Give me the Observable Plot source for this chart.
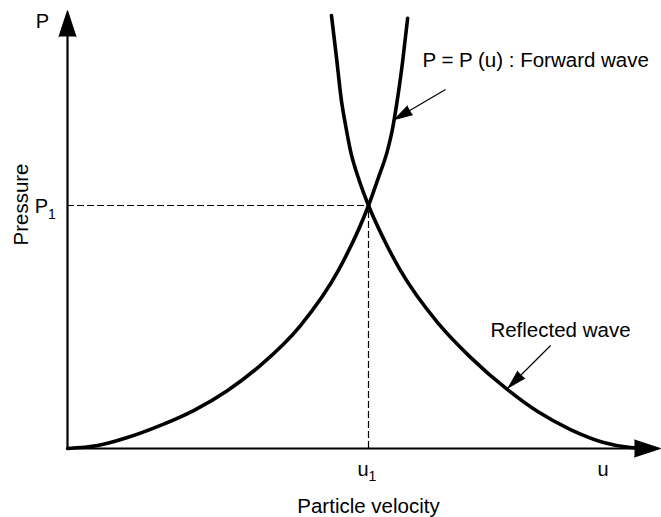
<!DOCTYPE html>
<html>
<head>
<meta charset="utf-8">
<script src="https://cdn.jsdelivr.net/npm/d3@7"></script>
<script src="https://cdn.jsdelivr.net/npm/@observablehq/plot@0.6"></script>
<style>
  html, body { margin: 0; padding: 0; background: #ffffff; }
  #chart svg { display: block; }
</style>
</head>
<body>
<div id="chart"></div>
<script>
// ---- data (units: u1 = 1, P1 = 1) ----
const u1 = 1;
const P1 = 1;

const forwardU = [0, 0.100, 0.199, 0.309, 0.419, 0.532, 0.641, 0.774, 0.900, 1, 1.033, 1.063, 1.080, 1.093, 1.113, 1.130];
const forwardP = [0, 0.012, 0.045, 0.095, 0.156, 0.239, 0.342, 0.506, 0.733, 1, 1.115, 1.226, 1.317, 1.412, 1.589, 1.770];

const reflectedU = [0.877, 0.894, 0.910, 0.924, 0.940, 0.967, 1, 1.053, 1.106, 1.229, 1.339, 1.465, 1.562, 1.671, 1.781, 1.870, 1.937];
const reflectedP = [1.782, 1.605, 1.432, 1.329, 1.226, 1.111, 1, 0.856, 0.733, 0.519, 0.375, 0.239, 0.152, 0.078, 0.025, 0.004, 0];

const uAxisEnd = 1.970;
const pAxisEnd = 1.802;
const uLabelAt = 1.779;

const annotationText = ["P = P (u) : Forward wave", "Reflected wave"];
const annotationTextU = [1.179, 1.405];
const annotationTextP = [1.572, 0.457];
const arrowTailU = [1.256, 1.605];
const arrowTailP = [1.477, 0.424];
const arrowTipU = [1.086, 1.465];
const arrowTipP = [1.354, 0.251];

// ---- layout ----
const W = 661, H = 517;
const xRange = [67, 368], yRange = [448, 205];
const font = "'Liberation Sans', Arial, Helvetica, sans-serif";

const forward = forwardU.map((u, i) => ({u, P: forwardP[i]}));
const reflected = reflectedU.map((u, i) => ({u, P: reflectedP[i]}));

const px = d3.scaleLinear().domain([0, u1]).range(xRange);
const py = d3.scaleLinear().domain([0, P1]).range(yRange);

const annotations = annotationText.map((text, i) => {
  const dx = px(arrowTipU[i]) - px(arrowTailU[i]);
  const dy = py(arrowTipP[i]) - py(arrowTailP[i]);
  return {
    text,
    tu: annotationTextU[i], tp: annotationTextP[i],
    u1: arrowTailU[i], p1: arrowTailP[i],
    u2: arrowTipU[i], p2: arrowTipP[i],
    angle: Math.atan2(dx, -dy) * 180 / Math.PI
  };
});

const axisHeads = [
  {u: 0, P: pAxisEnd, angle: 0},
  {u: uAxisEnd, P: 0, angle: 90}
];

const chart = Plot.plot({
  width: W,
  height: H,
  margin: 0,
  style: {fontFamily: font, fontSize: "20px", background: "#ffffff", color: "#000"},
  x: {domain: [0, u1], range: xRange, axis: null},
  y: {domain: [0, P1], range: yRange, axis: null},
  marks: [
    // dashed guides
    Plot.ruleY([P1], {x1: 0, x2: u1, stroke: "#000", strokeWidth: 1.2, strokeDasharray: "7,3"}),
    Plot.ruleX([u1], {y1: 0, y2: P1, stroke: "#000", strokeWidth: 1.2, strokeDasharray: "7,3"}),
    // axes
    Plot.ruleX([0], {y1: 0, y2: pAxisEnd * 0.97, stroke: "#000", strokeWidth: 2.2}),
    Plot.ruleY([0], {x1: 0, x2: uAxisEnd * 0.98, stroke: "#000", strokeWidth: 2.2}),
    Plot.vector(axisHeads, {x: "u", y: "P", rotate: "angle", shape: "spike", anchor: "end", length: 26, r: 8.5, fill: "#000", stroke: "#000", strokeWidth: 1}),
    // curves
    Plot.line(forward, {x: "u", y: "P", curve: "monotone-x", stroke: "#000", strokeWidth: 3.6}),
    Plot.line(reflected, {x: "u", y: "P", curve: "monotone-x", stroke: "#000", strokeWidth: 3.6}),
    // annotation arrows
    Plot.link(annotations, {x1: "u1", y1: "p1", x2: "u2", y2: "p2", stroke: "#000", strokeWidth: 1.2}),
    Plot.vector(annotations, {x: "u2", y: "p2", rotate: "angle", shape: "spike", anchor: "end", length: 18, r: 5, fill: "#000", stroke: "#000", strokeWidth: 1}),
    Plot.text(annotations, {x: "tu", y: "tp", text: "text", textAnchor: "start", lineAnchor: "bottom", fontSize: 20.5}),
    // axis labels
    Plot.text(["P"], {x: 0, y: pAxisEnd, text: d => d, dx: -25, dy: 17, textAnchor: "middle", lineAnchor: "bottom", fontSize: 20}),
    Plot.text(["u"], {x: uLabelAt, y: 0, text: d => d, dy: 27, textAnchor: "middle", lineAnchor: "bottom", fontSize: 20}),
    Plot.text(["Pressure"], {x: 0, y: P1, text: d => d, dx: -40, dy: -1, rotate: -90, textAnchor: "middle", lineAnchor: "bottom", fontSize: 20.5}),
    Plot.text(["Particle velocity"], {x: u1, y: 0, text: d => d, dy: 64, textAnchor: "middle", lineAnchor: "bottom", fontSize: 20.5}),
    // tick labels with subscripts
    Plot.text(["u"], {x: u1, y: 0, text: d => d, dx: -5.5, dy: 27, textAnchor: "middle", lineAnchor: "bottom", fontSize: 20}),
    Plot.text(["1"], {x: u1, y: 0, text: d => d, dx: 4, dy: 32, textAnchor: "middle", lineAnchor: "bottom", fontSize: 14}),
    Plot.text(["P"], {x: 0, y: P1, text: d => d, dx: -26, dy: 7, textAnchor: "middle", lineAnchor: "bottom", fontSize: 20}),
    Plot.text(["1"], {x: 0, y: P1, text: d => d, dx: -15.5, dy: 13, textAnchor: "middle", lineAnchor: "bottom", fontSize: 14})
  ]
});

document.getElementById("chart").appendChild(chart);
</script>
</body>
</html>
